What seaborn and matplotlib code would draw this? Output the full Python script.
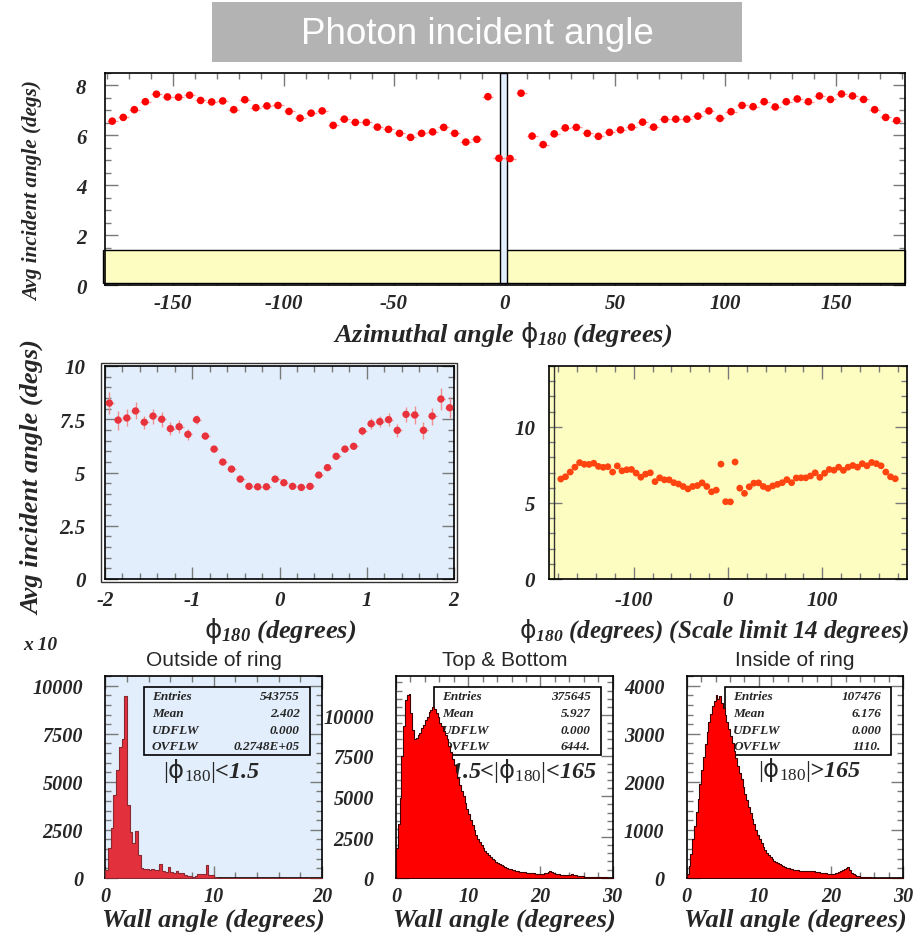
import numpy as np
import pandas as pd
import matplotlib
matplotlib.use("Agg")
import matplotlib.pyplot as plt
from matplotlib.patches import Rectangle
from matplotlib.ticker import MultipleLocator, FuncFormatter
import seaborn as sns

# ---------------- data ----------------
# average incident angle in 5-degree bins of phi_180, from -180 to 180
phi_bin_width = 5.0
avg_angle_by_phi = [
    6.57, 6.72, 7.03, 7.35, 7.65, 7.54, 7.53, 7.61, 7.40, 7.34, 7.38, 7.03,
    7.43, 7.11, 7.18, 7.20, 6.96, 6.69, 6.89, 6.98, 6.40, 6.65, 6.52, 6.52,
    6.33, 6.24, 6.08, 5.92, 6.08, 6.14, 6.32, 6.08, 5.73, 5.84, 7.55, 5.08,
    5.07, 7.69, 5.97, 5.63, 6.06, 6.30, 6.32, 6.08, 5.96, 6.12, 6.22, 6.33,
    6.53, 6.33, 6.64, 6.65, 6.65, 6.77, 6.98, 6.68, 6.95, 7.20, 7.15, 7.35,
    7.14, 7.35, 7.46, 7.35, 7.58, 7.44, 7.66, 7.58, 7.44, 7.03, 6.72, 6.59,
]

# zoom on |phi_180| < 2 degrees, 0.1-degree bins
fine_phi_bin_width = 0.1
avg_angle_fine = [
    8.26, 7.46, 7.56, 7.89, 7.36, 7.65, 7.50, 7.06, 7.15, 6.79,
    7.48, 6.71, 6.10, 5.49, 5.16, 4.69, 4.35, 4.33, 4.33, 4.69,
    4.52, 4.35, 4.30, 4.35, 4.88, 5.23, 5.76, 6.10, 6.23, 6.95,
    7.29, 7.39, 7.48, 6.98, 7.73, 7.70, 6.98, 7.65, 8.45, 8.04,
]
avg_angle_fine_err = [
    0.50, 0.45, 0.40, 0.40, 0.30, 0.35, 0.35, 0.30, 0.30, 0.25,
    0.20, 0.15, 0.12, 0.10, 0.10, 0.10, 0.10, 0.10, 0.10, 0.10,
    0.10, 0.10, 0.10, 0.10, 0.10, 0.10, 0.10, 0.12, 0.15, 0.20,
    0.25, 0.25, 0.30, 0.30, 0.35, 0.40, 0.40, 0.40, 0.50, 0.50,
]

# wall-angle distributions, 0.25-degree bins starting at 0
wall_bin_width = 0.25
outside_ring_counts = [
    400, 1550, 2600, 4300, 5600, 6800, 7250, 9450, 3800, 2400,
    1800, 2450, 1200, 480, 450, 430, 420, 460, 400, 420,
    700, 350, 300, 550, 300, 250, 330, 230, 260, 120,
    80, 80, 60, 100, 180, 200, 200, 650, 150, 120,
    30, 0, 0, 0, 0, 0, 0, 0, 0, 0,
    0, 0, 0, 0, 0, 0, 0, 0, 0, 0,
    0, 0, 0, 0, 0, 0, 0, 0, 0, 0,
    0, 0, 0, 0, 0, 0, 0, 0, 0, 0,
]
top_bottom_counts = [
    1800, 3300, 4900, 7500, 9300, 10900, 11200, 11300, 10100, 9100,
    8500, 8600, 8800, 8900, 9200, 9400, 9700, 9900, 10200, 10300,
    10500, 10400, 10100, 9900, 9500, 9300, 9000, 8800, 8500, 8100,
    7700, 7300, 6900, 6500, 6100, 5700, 5300, 5000, 4600, 4200,
    3900, 3550, 3250, 2950, 2650, 2400, 2200, 2000, 1800, 1650,
    1500, 1380, 1260, 1150, 1060, 980, 900, 830, 760, 700,
    650, 600, 560, 520, 490, 460, 430, 400, 380, 360,
    340, 320, 300, 290, 280, 270, 260, 250, 240, 230,
    230, 240, 260, 290, 330, 420, 380, 280, 230, 210,
    200, 190, 180, 180, 170, 170, 180, 200, 190, 160,
    130, 110, 90, 80, 70, 60, 50, 45, 40, 35,
    30, 28, 25, 22, 20, 18, 15, 12, 10, 8,
]
inside_ring_counts = [
    80, 250, 500, 800, 1080, 1360, 1650, 1950, 2250, 2520,
    2780, 3030, 3250, 3420, 3580, 3690, 3800, 3720, 3790, 3650,
    3530, 3400, 3250, 3100, 2960, 2800, 2650, 2490, 2330, 2190,
    2060, 1900, 1750, 1610, 1470, 1350, 1230, 1110, 990, 900,
    800, 720, 650, 580, 520, 470, 430, 390, 350, 320,
    300, 280, 260, 240, 225, 210, 200, 190, 180, 170,
    165, 160, 150, 150, 145, 140, 140, 150, 150, 140,
    130, 125, 120, 110, 105, 100, 95, 90, 85, 80,
    80, 85, 90, 100, 110, 130, 160, 190, 200, 230,
    160, 100, 70, 50, 40, 30, 20, 15, 12, 10,
    8, 5, 4, 3, 3, 2, 2, 2, 1, 1,
    1, 1, 1, 0, 0, 0, 0, 0, 0, 0,
]

stats_outside = [("Entries", "543755"), ("Mean", "2.402"),
                 ("UDFLW", "0.000"), ("OVFLW", "0.2748E+05")]
stats_top_bottom = [("Entries", "375645"), ("Mean", "5.927"),
                    ("UDFLW", "0.000"), ("OVFLW", "6444.")]
stats_inside = [("Entries", "107476"), ("Mean", "6.176"),
                ("UDFLW", "0.000"), ("OVFLW", "1110.")]

# ---------------- style ----------------
sns.set_style("ticks")
plt.rcParams.update({
    "font.family": ["Liberation Serif", "DejaVu Serif"],
    "font.weight": "bold",
    "font.style": "italic",
    "axes.unicode_minus": False,
    "mathtext.fontset": "custom",
    "mathtext.rm": "Liberation Serif:style=normal:weight=normal",
    "mathtext.it": "Liberation Serif:style=italic:weight=normal",
    "mathtext.bf": "Liberation Serif:style=italic:weight=bold",
    "mathtext.sf": "DejaVu Sans:style=normal:weight=normal",
    "mathtext.fallback": "cm",
})

W, H = 924, 937
fig = plt.figure(figsize=(W / 100, H / 100), dpi=100)
fig.patch.set_facecolor("white")

BLUE_BG = "#e2eefc"
YELLOW_BG = "#fdfdc2"
LABEL_SIZE = 19


def px_axes(l, t, r, b):
    return fig.add_axes([l / W, 1 - b / H, (r - l) / W, (b - t) / H])


def fx(x):
    return x / W


def fy(y):
    return 1 - y / H


def bf(s):
    return r"\mathbf{" + s.replace(" ", r"\ ") + "}"


PHI = r"\mathsf{\phi}_{\mathbf{180}}"
fmt_g = FuncFormatter(lambda v, p: f"{v:g}")


def root_frame(ax, xmaj, xmin, ymaj, ymin, xpad, ypad, size=15):
    ax.xaxis.set_major_locator(MultipleLocator(xmaj))
    ax.xaxis.set_minor_locator(MultipleLocator(xmin))
    ax.yaxis.set_major_locator(MultipleLocator(ymaj))
    ax.yaxis.set_minor_locator(MultipleLocator(ymin))
    ax.xaxis.set_major_formatter(fmt_g)
    ax.yaxis.set_major_formatter(fmt_g)
    ax.tick_params(which="both", direction="in", top=True, right=True,
                   color="#7a7a7a", width=1)
    ax.tick_params(which="major", length=9)
    ax.tick_params(which="minor", length=4.5)
    ax.tick_params(axis="x", pad=xpad, labelsize=size)
    ax.tick_params(axis="y", pad=ypad, labelsize=size)
    for s in ax.spines.values():
        s.set_color("black")
        s.set_linewidth(1.2)
    ax.set_xlabel("")
    ax.set_ylabel("")


# ---------------- title ----------------
fig.patches.append(Rectangle((fx(212), fy(63)), fx(742) - fx(212), fy(3) - fy(63),
                             transform=fig.transFigure, facecolor="#b3b3b3",
                             edgecolor="none", zorder=0))
fig.text(fx(477), fy(34), "Photon incident angle", ha="center", va="center",
         color="white", fontsize=26.5, family="Liberation Sans",
         style="normal", weight="normal")

# ---------------- top panel: full phi range ----------------
phi_centers = -180 + phi_bin_width * (np.arange(len(avg_angle_by_phi)) + 0.5)
ax = px_axes(104.5, 74, 904.5, 286)
ax.errorbar(phi_centers, avg_angle_by_phi, xerr=phi_bin_width / 2, fmt="none",
            ecolor="#ff9a9a", elinewidth=1.0, zorder=2)
sns.scatterplot(x=phi_centers, y=avg_angle_by_phi, ax=ax, color="#ff0000",
                s=30, edgecolor="none", zorder=3, legend=False)
ax.set_xlim(-181, 181)
ax.set_ylim(0, 8.5)
root_frame(ax, 50, 10, 2, 0.5, xpad=6, ypad=13)
ax.add_patch(Rectangle((-181.8, 0.07), 363.1, 1.33, facecolor=YELLOW_BG,
                       edgecolor="black", lw=1.0, zorder=1, clip_on=False))
ax.add_patch(Rectangle((-1.95, 0.07), 3.3, 8.43, facecolor=BLUE_BG,
                       edgecolor="black", lw=1.0, zorder=1.5, clip_on=False))
fig.text(fx(503), fy(335), "$" + bf("Azimuthal angle") + r"\ " + PHI + r"\ "
         + bf("(degrees)") + "$", ha="center", va="center", fontsize=LABEL_SIZE)
fig.text(fx(33), fy(191), "Avg incident angle (degs)", rotation=90,
         ha="center", va="center", fontsize=15.2)

# ---------------- middle left: |phi| < 2 ----------------
fine_centers = -2 + fine_phi_bin_width * (np.arange(len(avg_angle_fine)) + 0.5)
ax = px_axes(105, 367, 454, 580)
ax.set_facecolor(BLUE_BG)
ax.errorbar(fine_centers, avg_angle_fine, xerr=fine_phi_bin_width / 2,
            yerr=avg_angle_fine_err, fmt="none", ecolor="#f09090",
            elinewidth=1.0, zorder=2)
sns.scatterplot(x=fine_centers, y=avg_angle_fine, ax=ax, color="#e8323c",
                s=28, edgecolor="none", zorder=3, legend=False)
ax.set_xlim(-2, 2)
ax.set_ylim(0, 10)
root_frame(ax, 1, 0.2, 2.5, 0.5, xpad=8, ypad=14)
fig.patches.append(Rectangle((fx(101), fy(582.5)), fx(457) - fx(101),
                             fy(364) - fy(582.5), transform=fig.transFigure,
                             facecolor="none", edgecolor="#333333", lw=1.0))
fig.text(fx(280), fy(631), "$" + PHI + r"\ " + bf("(degrees)") + "$",
         ha="center", va="center", fontsize=LABEL_SIZE)
fig.text(fx(33), fy(478), "Avg incident angle (degs)", rotation=90,
         ha="center", va="center", fontsize=19)

# ---------------- middle right: full range, 14 degree scale ----------------
ax = px_axes(549, 367, 907, 580)
ax.set_facecolor(YELLOW_BG)
ax.errorbar(phi_centers, avg_angle_by_phi, xerr=phi_bin_width / 2, fmt="none",
            ecolor="#ff9060", elinewidth=0.8, zorder=2)
sns.scatterplot(x=phi_centers, y=avg_angle_by_phi, ax=ax, color="#ff4410",
                s=24, edgecolor="none", zorder=3, legend=False)
ax.set_xlim(-190, 190)
ax.set_ylim(0, 14)
root_frame(ax, 100, 20, 5, 1, xpad=8, ypad=10)
ax.axvline(-184.5, color="#333333", lw=1.0)
fig.text(fx(519), fy(631), "$" + PHI + r"\ " + bf("(degrees) (Scale limit 14 degrees)")
         + "$", ha="left", va="center", fontsize=18)


# ---------------- bottom row: wall angle histograms ----------------
def wall_hist(box, counts, xmax, ymax, ymaj, ymin, color, edge, face,
              title, stats, region, region_xy):
    ax = px_axes(*box)
    ax.set_facecolor(face)
    hist_df = pd.DataFrame({
        "wall_angle": wall_bin_width * (np.arange(len(counts)) + 0.5),
        "count": counts,
    })
    edges = [wall_bin_width * i for i in range(len(counts) + 1)]
    sns.histplot(data=hist_df, x="wall_angle", weights="count", bins=edges,
                 element="step", fill=True, color=color, alpha=1.0,
                 edgecolor=edge, linewidth=0.8, ax=ax, zorder=3)
    ax.set_xlim(0, xmax)
    ax.set_ylim(0, ymax)
    root_frame(ax, 10, 2, ymaj, ymin, xpad=6, ypad=16, size=14.5)
    # statistics box sits behind the histogram
    ax.add_patch(Rectangle((0.177, 0.611), 0.767, 0.334, transform=ax.transAxes,
                           facecolor=face, edgecolor="black", lw=1.2, zorder=1))
    for (k, v), y in zip(stats, [0.901, 0.818, 0.735, 0.652]):
        ax.text(0.214, y, k, transform=ax.transAxes, fontsize=9.5,
                ha="left", va="center", zorder=1.2)
        ax.text(0.898, y, v, transform=ax.transAxes, fontsize=9.5,
                ha="right", va="center", zorder=1.2)
    ax.text(region_xy[0], region_xy[1], region, transform=ax.transAxes,
            fontsize=17.5, ha="left", va="baseline", zorder=1.5)
    cx = (box[0] + box[2]) / 2
    fig.text(fx(cx), fy(661), title, ha="center", va="center", fontsize=15,
             family="Liberation Sans", style="normal", weight="normal")
    fig.text(fx(cx), fy(920), "Wall angle (degrees)", ha="center",
             va="center", fontsize=LABEL_SIZE)
    return ax


RPHI = r"$\mathrm{|}\mathsf{\phi}_{\mathit{180}}\mathrm{|}$"
wall_hist((105.3, 677.3, 322, 878.7), outside_ring_counts, 20, 10500, 2500, 500,
          "#e2303c", "#8a2a30", BLUE_BG, "Outside of ring", stats_outside,
          RPHI + "<1.5", (0.265, 0.5))
wall_hist((396, 677.3, 612.7, 878.7), top_bottom_counts, 30, 12380, 2500, 500,
          "#ff0000", "#400000", "white", "Top & Bottom", stats_top_bottom,
          "1.5<" + RPHI + "<165", (0.249, 0.5))
wall_hist((686.7, 677.3, 903.3, 878.7), inside_ring_counts, 30, 4200, 1000, 200,
          "#ff0000", "#400000", "white", "Inside of ring", stats_inside,
          RPHI + ">165", (0.33, 0.506))

fig.text(fx(40), fy(646), "x 10", ha="center", va="center", fontsize=14)

fig.savefig("out.png", dpi=100, facecolor="white")
